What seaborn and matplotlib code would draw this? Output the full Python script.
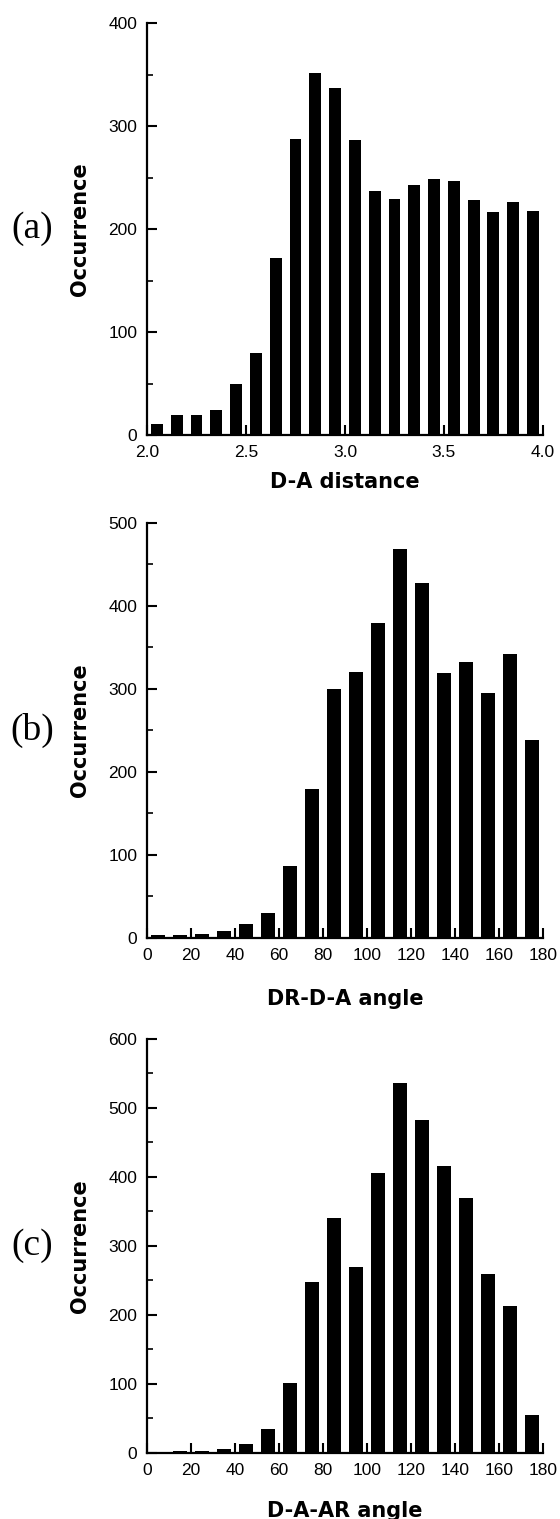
import matplotlib
matplotlib.use("Agg")
import matplotlib.pyplot as plt
import seaborn as sns
from matplotlib.ticker import MultipleLocator

sns.set_style("ticks", rc={'axes.edgecolor': 'black', 'text.color': 'black',
                           'axes.labelcolor': 'black', 'xtick.color': 'black',
                           'ytick.color': 'black'})
plt.rcParams['font.family'] = ['Liberation Sans', 'DejaVu Sans']

# bin centres and counts
dist_bins = [2.05, 2.15, 2.25, 2.35, 2.45, 2.55, 2.65, 2.75, 2.85, 2.95,
             3.05, 3.15, 3.25, 3.35, 3.45, 3.55, 3.65, 3.75, 3.85, 3.95]
dist_counts = [11, 19, 19, 24, 50, 80, 172, 287, 352, 337,
               286, 237, 229, 243, 249, 247, 228, 217, 226, 218]

angle_bins = [5, 15, 25, 35, 45, 55, 65, 75, 85, 95,
              105, 115, 125, 135, 145, 155, 165, 175]
drda_counts = [3, 3, 5, 8, 17, 30, 87, 180, 300, 320,
               379, 469, 428, 319, 332, 295, 342, 239]
daar_counts = [0, 3, 3, 6, 13, 34, 102, 247, 340, 270,
               406, 536, 483, 416, 369, 259, 213, 55]

panel_labels = ['(a)', '(b)', '(c)']
x_titles = ['D-A distance', 'DR-D-A angle', 'D-A-AR angle']

fig = plt.figure(figsize=(5.6, 15.19), dpi=100)

# [bottom, height] of each axes in figure fraction, xlim, ylim, major x step, xlabel pad
setup = [
    (0.7136, 0.2712, (2.0, 4.0), 400, 0.5, 9),
    (0.3825, 0.2732, (0, 180), 500, 20, 19),
    (0.0435, 0.2726, (0, 180), 600, 20, 17),
]
series = [(dist_bins, dist_counts), (angle_bins, drda_counts), (angle_bins, daar_counts)]

for i, ((bottom, height, xlim, ytop, xstep, xpad), (xs, ys)) in enumerate(zip(setup, series)):
    ax = fig.add_axes([0.2625, bottom, 0.707, height])
    sns.barplot(x=xs, y=ys, native_scale=True, width=0.6, color='black',
                linewidth=0, errorbar=None, ax=ax)
    ax.set_xlim(*xlim)
    ax.set_ylim(0, ytop)
    ax.xaxis.set_major_locator(MultipleLocator(xstep))
    ax.yaxis.set_major_locator(MultipleLocator(100))
    ax.yaxis.set_minor_locator(MultipleLocator(50))
    if i == 0:
        ax.xaxis.set_major_formatter(matplotlib.ticker.FormatStrFormatter('%.1f'))
    sns.despine(ax=ax)
    for s in ['left', 'bottom']:
        ax.spines[s].set_linewidth(1.6)
    ax.tick_params(which='major', direction='in', length=7, width=1.5,
                   labelsize=12.5, pad=7)
    ax.tick_params(which='minor', direction='in', length=4, width=1.2)
    ax.tick_params(axis='x', which='minor', bottom=False)
    ax.set_ylabel('Occurrence', fontfamily='DejaVu Sans', fontweight='bold',
                  fontsize=15, labelpad=13)
    ax.set_xlabel(x_titles[i], fontfamily='DejaVu Sans', fontweight='bold',
                  fontsize=15, labelpad=xpad)
    fig.text(0.057, bottom + height / 2, panel_labels[i], family='Liberation Serif',
             fontsize=27, ha='center', va='center')

fig.savefig('out.png', dpi=100)
